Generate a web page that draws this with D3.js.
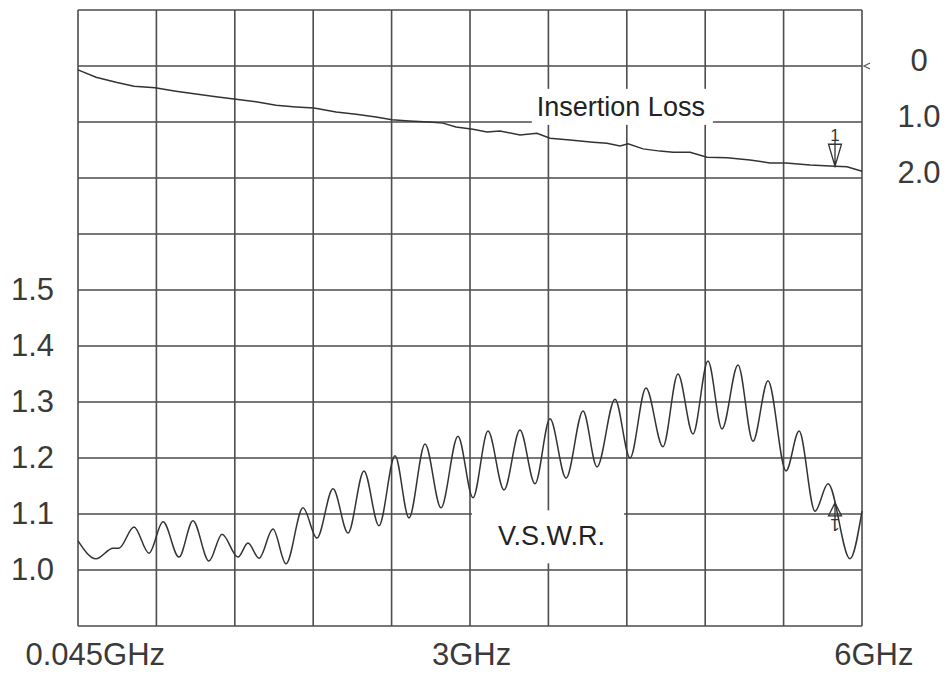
<!DOCTYPE html>
<html><head><meta charset="utf-8">
<script src="https://cdn.jsdelivr.net/npm/d3@7"></script>
<style>
body{margin:0;background:#fff;}
svg text{font-family:"Liberation Sans",Arial,Helvetica,sans-serif;}
</style></head><body>
<svg id="chart" width="947" height="677"></svg>
<script>
// ---- data ----
const freqTicks = [0.045, 3, 6];
const freqTickLabels = ["0.045GHz", "3GHz", "6GHz"];
const vswrTicks = [1.0, 1.1, 1.2, 1.3, 1.4, 1.5];
const vswrTickLabels = ["1.0", "1.1", "1.2", "1.3", "1.4", "1.5"];
const lossTicks = [0, 1, 2];
const lossTickLabels = ["0", "1.0", "2.0"];

const ilFreq = [0.045,0.182,0.334,0.470,0.630,0.789,0.941,1.093,1.230,1.397,1.549,1.701,1.838,2.005,2.157,2.309,2.430,2.559,2.711,2.817,2.916,3.045,3.152,3.250,3.402,3.531,3.630,3.782,3.957,4.063,4.162,4.223,4.337,4.466,4.565,4.694,4.823,4.975,5.149,5.301,5.423,5.605,5.795,5.886,6.000];
const ilLoss = [0.07,0.20,0.29,0.36,0.39,0.45,0.50,0.55,0.59,0.64,0.70,0.73,0.75,0.82,0.86,0.91,0.96,0.98,1.00,1.02,1.09,1.13,1.18,1.16,1.23,1.20,1.29,1.32,1.36,1.38,1.43,1.39,1.48,1.52,1.54,1.54,1.63,1.64,1.68,1.73,1.73,1.77,1.79,1.80,1.88];

const vswrFreq = [0.045,0.182,0.311,0.356,0.470,0.584,0.691,0.812,0.918,1.040,1.139,1.260,1.336,1.420,1.526,1.625,1.754,1.860,1.982,2.096,2.217,2.331,2.453,2.559,2.681,2.802,2.931,3.045,3.159,3.281,3.402,3.516,3.630,3.752,3.881,3.987,4.124,4.238,4.359,4.488,4.602,4.716,4.830,4.937,5.058,5.172,5.286,5.423,5.522,5.643,5.742,5.909,6.000];
const vswrValue = [1.052,1.020,1.039,1.039,1.077,1.030,1.086,1.023,1.088,1.016,1.064,1.023,1.048,1.021,1.073,1.011,1.111,1.057,1.145,1.066,1.177,1.079,1.204,1.093,1.225,1.111,1.239,1.129,1.248,1.143,1.250,1.154,1.270,1.164,1.284,1.184,1.305,1.200,1.325,1.220,1.350,1.243,1.373,1.252,1.366,1.230,1.338,1.177,1.248,1.105,1.154,1.020,1.105];

const markerFreq = 5.795;
const markerLoss = 1.79;
const markerVswr = 1.12;
const markerLabel = "1";

const seriesLabels = ["Insertion Loss", "V.S.W.R."];
const labelFreq = [3.53, 3.235];
const labelLevel = [0.89, 1.044]; // IL in dB, VSWR value

// ---- layout ----
const plotL = 78, plotR = 862, plotT = 10, plotB = 626;
const svg = d3.select("#chart");
const x = d3.scaleLinear().domain([0.045, 6]).range([plotL, plotR]);
const yV = d3.scaleLinear().domain([0.9, 2.0]).range([plotB, plotT]);
const yL = d3.scaleLinear().domain([-1, 10]).range([plotT, plotB]);

const gridColor = "#4d4d4d";
const grid = svg.append("g");
const xd = x.domain();
grid.selectAll("line.v").data(d3.range(11)).join("line")
  .attr("x1", i => x(xd[0] + i * (xd[1] - xd[0]) / 10))
  .attr("x2", i => x(xd[0] + i * (xd[1] - xd[0]) / 10))
  .attr("y1", plotT).attr("y2", plotB)
  .attr("stroke", gridColor).attr("stroke-width", 1.6);
grid.selectAll("line.h").data(d3.range(12)).join("line")
  .attr("y1", i => yV(0.9 + i * 0.1)).attr("y2", i => yV(0.9 + i * 0.1))
  .attr("x1", plotL).attr("x2", plotR)
  .attr("stroke", gridColor).attr("stroke-width", 1.6);

// reference level pointer at 0 dB
svg.append("path")
  .attr("d", `M${x(6) + 8},${yL(0) - 3} L${x(6) + 2},${yL(0)} L${x(6) + 8},${yL(0) + 3}`)
  .attr("fill", "none").attr("stroke", "#555").attr("stroke-width", 1.2);

// ---- axes (labels only) ----
const labelColor = "#3a3a3a";
const ax1 = svg.append("g").attr("transform", `translate(${plotL},0)`)
  .call(d3.axisLeft(yV).tickValues(vswrTicks).tickFormat((d, i) => vswrTickLabels[i]).tickSize(0).tickPadding(24));
const ax2 = svg.append("g").attr("transform", `translate(${plotR},0)`)
  .call(d3.axisRight(yL).tickValues(lossTicks).tickFormat((d, i) => lossTickLabels[i]).tickSize(0).tickPadding(57));
const ax3 = svg.append("g").attr("transform", `translate(0,${plotB})`)
  .call(d3.axisBottom(x).tickValues(freqTicks).tickFormat((d, i) => freqTickLabels[i]).tickSize(0).tickPadding(17));
[ax1, ax2, ax3].forEach(a => {
  a.select(".domain").remove();
  a.selectAll("text").attr("font-size", 31).attr("fill", labelColor)
    .style("font-family", '"Liberation Sans", Arial, sans-serif');
});
ax2.selectAll("text").attr("text-anchor", "middle").attr("dy", "0.15em");
ax3.selectAll("text")
  .attr("text-anchor", (d, i) => i === 0 ? "start" : (i === freqTicks.length - 1 ? "end" : "middle"))
  .attr("dx", (d, i) => i === 0 ? -53 : (i === freqTicks.length - 1 ? 51 : 4));

// ---- annotation labels with white boxes ----
function boxedLabel(text, px, py, padL, padR, padT, padB) {
  const g = svg.append("g");
  const rect = g.append("rect").attr("fill", "#fff");
  const t = g.append("text").attr("x", px).attr("y", py).text(text)
    .attr("font-size", 27).attr("fill", "#222");
  const b = t.node().getBBox();
  rect.attr("x", b.x - padL).attr("y", b.y - padT)
    .attr("width", b.width + padL + padR).attr("height", b.height + padT + padB);
}
boxedLabel(seriesLabels[0], x(labelFreq[0]), yL(labelLevel[0]), 5, 8, 3, 3);
boxedLabel(seriesLabels[1], x(labelFreq[1]), yV(labelLevel[1]), 26, 19, 11, 12);

// ---- curves ----
const ilData = ilFreq.map((f, i) => [f, ilLoss[i]]);
const vsData = vswrFreq.map((f, i) => [f, vswrValue[i]]);
svg.append("path").datum(ilData)
  .attr("d", d3.line().x(d => x(d[0])).y(d => yL(d[1])).curve(d3.curveLinear))
  .attr("fill", "none").attr("stroke", "#333").attr("stroke-width", 1.5);
svg.append("path").datum(vsData)
  .attr("d", d3.line().x(d => x(d[0])).y(d => yV(d[1])).curve(d3.curveMonotoneX))
  .attr("fill", "none").attr("stroke", "#333").attr("stroke-width", 1.5);

// ---- markers ----
function marker(px, py, rot, size) {
  const g = svg.append("g").attr("transform", `translate(${px},${py}) rotate(${rot})`);
  g.append("path").attr("d", `M0,0 L-6.5,${-size} L6.5,${-size} Z M0,0 L0,${-size - 4}`)
    .attr("fill", "none").attr("stroke", "#333").attr("stroke-width", 1.3);
  g.append("text").attr("x", 0).attr("y", -size - 3).attr("text-anchor", "middle")
    .attr("font-size", 17).attr("fill", "#333").text(markerLabel);
}
marker(x(markerFreq), yL(markerLoss), 0, 22);
marker(x(markerFreq), yV(markerVswr), 180, 13);
</script>
</body></html>
